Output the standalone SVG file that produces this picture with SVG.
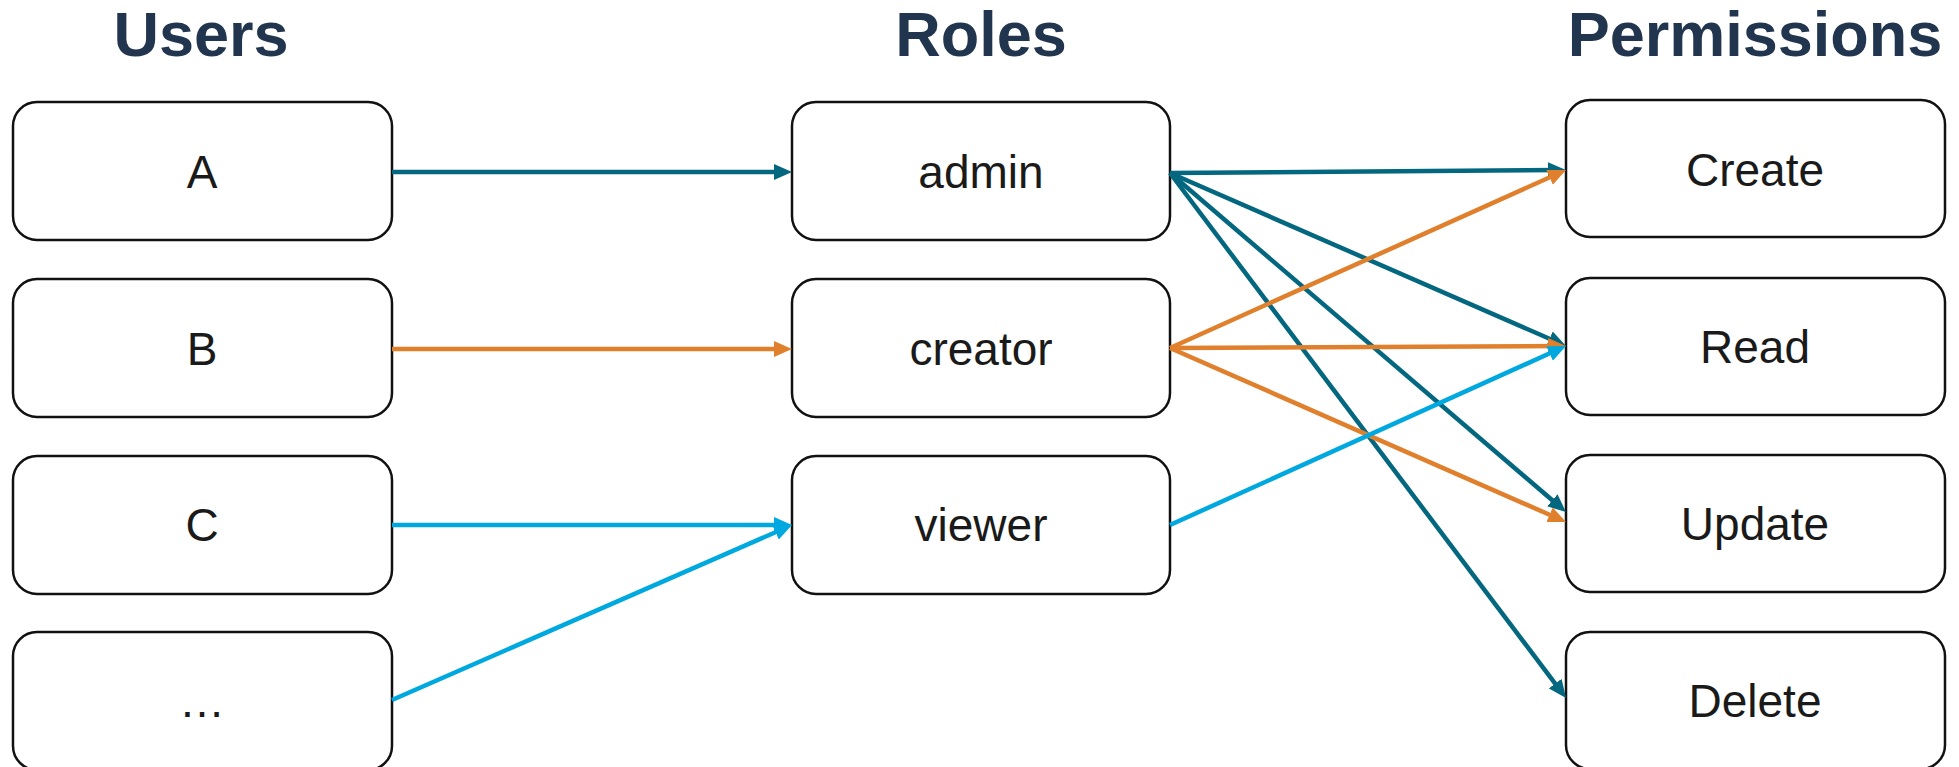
<svg xmlns="http://www.w3.org/2000/svg" width="1959" height="767" viewBox="0 0 1959 767">
<style>
.title{font-family:"Liberation Sans",Arial,sans-serif;font-weight:bold;font-size:63px;fill:#22354F;text-anchor:middle}
.box{fill:#fff;stroke:#111;stroke-width:2.5}
.lbl{font-family:"Liberation Sans",Arial,sans-serif;font-size:46px;fill:#1a1a1a;text-anchor:middle}
.teal{stroke:#03677F;stroke-width:4.5;fill:none}
.orange{stroke:#E0802C;stroke-width:4.5;fill:none}
.cyan{stroke:#00A8E0;stroke-width:4.5;fill:none}
</style>
<defs>
<marker id="mt" markerUnits="userSpaceOnUse" markerWidth="18" markerHeight="16" refX="10" refY="8" orient="auto"><path d="M0,0 L18,8 L0,16 z" fill="#03677F"/></marker>
<marker id="mo" markerUnits="userSpaceOnUse" markerWidth="18" markerHeight="16" refX="10" refY="8" orient="auto"><path d="M0,0 L18,8 L0,16 z" fill="#E0802C"/></marker>
<marker id="mc" markerUnits="userSpaceOnUse" markerWidth="18" markerHeight="16" refX="10" refY="8" orient="auto"><path d="M0,0 L18,8 L0,16 z" fill="#00A8E0"/></marker>
</defs>
<text class="title" x="201" y="56">Users</text>
<text class="title" x="981" y="56">Roles</text>
<text class="title" x="1755" y="56">Permissions</text>
<g id="user-A"><rect class="box" x="13" y="102" width="379" height="138" rx="24"/><text class="lbl" x="202" y="188">A</text></g>
<g id="user-B"><rect class="box" x="13" y="279" width="379" height="138" rx="24"/><text class="lbl" x="202" y="365">B</text></g>
<g id="user-C"><rect class="box" x="13" y="456" width="379" height="138" rx="24"/><text class="lbl" x="202" y="541">C</text></g>
<g id="user-more"><rect class="box" x="13" y="632" width="379" height="138" rx="24"/><text class="lbl" x="202" y="717">…</text></g>
<g id="role-admin"><rect class="box" x="792" y="102" width="378" height="138" rx="24"/><text class="lbl" x="981" y="188">admin</text></g>
<g id="role-creator"><rect class="box" x="792" y="279" width="378" height="138" rx="24"/><text class="lbl" x="981" y="365">creator</text></g>
<g id="role-viewer"><rect class="box" x="792" y="456" width="378" height="138" rx="24"/><text class="lbl" x="981" y="541">viewer</text></g>
<g id="perm-create"><rect class="box" x="1566" y="100" width="379" height="137" rx="24"/><text class="lbl" x="1755" y="186">Create</text></g>
<g id="perm-read"><rect class="box" x="1566" y="278" width="379" height="137" rx="24"/><text class="lbl" x="1755" y="363">Read</text></g>
<g id="perm-update"><rect class="box" x="1566" y="455" width="379" height="137" rx="24"/><text class="lbl" x="1755" y="540">Update</text></g>
<g id="perm-delete"><rect class="box" x="1566" y="632" width="379" height="137" rx="24"/><text class="lbl" x="1755" y="717">Delete</text></g>
<g id="connectors">
<line class="teal" x1="392" y1="172" x2="784" y2="172" marker-end="url(#mt)"/>
<line class="orange" x1="392" y1="349" x2="784" y2="349" marker-end="url(#mo)"/>
<line class="cyan" x1="392" y1="525" x2="784" y2="525" marker-end="url(#mc)"/>
<line class="cyan" x1="392" y1="700" x2="784.7" y2="528.2" marker-end="url(#mc)"/>
<line class="teal" x1="1170" y1="173" x2="1558" y2="170.1" marker-end="url(#mt)"/>
<line class="teal" x1="1170" y1="173" x2="1558.7" y2="342.8" marker-end="url(#mt)"/>
<line class="teal" x1="1170" y1="173" x2="1559.9" y2="506.8" marker-end="url(#mt)"/>
<line class="teal" x1="1170" y1="173" x2="1561.2" y2="691.6" marker-end="url(#mt)"/>
<line class="orange" x1="1170" y1="348" x2="1558.7" y2="173.3" marker-end="url(#mo)"/>
<line class="orange" x1="1170" y1="348" x2="1558" y2="346" marker-end="url(#mo)"/>
<line class="orange" x1="1170" y1="348" x2="1558.7" y2="518.8" marker-end="url(#mo)"/>
<line class="cyan" x1="1170" y1="525" x2="1558.7" y2="349.3" marker-end="url(#mc)"/>
</g>
</svg>
